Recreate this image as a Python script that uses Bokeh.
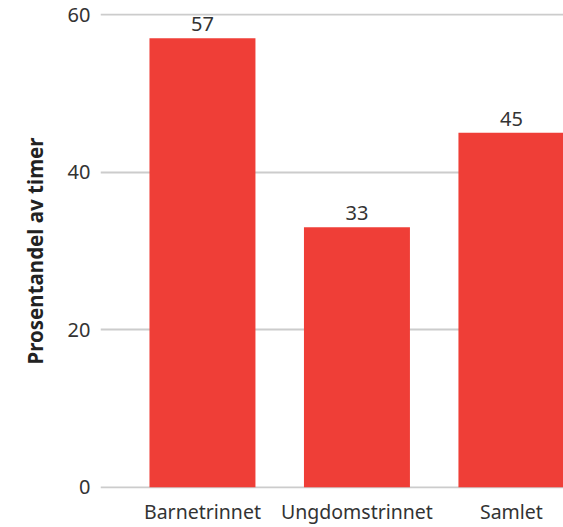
from bokeh.plotting import figure
from bokeh.models import ColumnDataSource, FixedTicker, Range1d, LabelSet
from bokeh.core.properties import value
from bokeh.embed import file_html
from bokeh.resources import INLINE

categories = ["Barnetrinnet", "Ungdomstrinnet", "Samlet"]
values = [57, 33, 45]
y_ticks = [0, 20, 40, 60]

positions = list(range(len(categories)))
source = ColumnDataSource(dict(
    x=positions,
    top=values,
    label=[str(v) for v in values],
))

FONT = "Noto Sans"
TEXT_COLOR = "#333333"

p = figure(
    width=563, height=527,
    x_range=Range1d(-0.66, 2.337),
    # a hair of padding so the 0 and 60 grid lines are drawn
    y_range=Range1d(-0.15, 60.15),
    output_backend="svg",
    toolbar_location=None,
    min_border_left=100, min_border_right=0,
    min_border_top=13, min_border_bottom=36,
)
p.outline_line_color = None
p.background_fill_color = "white"
p.border_fill_color = "white"

p.vbar(x="x", top="top", bottom=0, width=0.686, source=source,
       fill_color="#ef3e37", line_color=None)

labels = LabelSet(x="x", y="top", text="label", source=source,
                  text_align="center", text_baseline="alphabetic", y_offset=7,
                  text_font=value(FONT), text_font_size="20px",
                  text_color=TEXT_COLOR)
p.add_layout(labels)

# y axis: no line or ticks, only labels and horizontal grid
p.yaxis.ticker = FixedTicker(ticks=y_ticks)
p.ygrid.ticker = FixedTicker(ticks=y_ticks)
p.yaxis.axis_line_color = None
p.yaxis.major_tick_line_color = None
p.yaxis.minor_tick_line_color = None
p.yaxis.major_tick_out = 0
p.yaxis.major_label_standoff = 10
p.yaxis.major_label_text_font = FONT
p.yaxis.major_label_text_font_size = "20px"
p.yaxis.major_label_text_color = TEXT_COLOR
p.yaxis.axis_label = "Prosentandel av timer"
p.yaxis.axis_label_text_font = FONT
p.yaxis.axis_label_text_font_style = "bold"
p.yaxis.axis_label_text_font_size = "20.5px"
p.yaxis.axis_label_text_color = "#222222"
p.yaxis.axis_label_standoff = 16

p.ygrid.grid_line_color = "#cccccc"
p.ygrid.grid_line_width = 2
p.xgrid.grid_line_color = None

# x axis: category names under each bar
p.xaxis.ticker = FixedTicker(ticks=positions)
p.xaxis.major_label_overrides = {i: c for i, c in enumerate(categories)}
p.xaxis.axis_line_color = None
p.xaxis.major_tick_line_color = None
p.xaxis.minor_tick_line_color = None
p.xaxis.major_tick_out = 0
p.xaxis.major_label_standoff = 9
p.xaxis.major_label_text_font = FONT
p.xaxis.major_label_text_font_size = "19.5px"
p.xaxis.major_label_text_line_height = 1.0
p.xaxis.major_label_text_color = TEXT_COLOR

open("out.html", "w").write(file_html(p, INLINE))
